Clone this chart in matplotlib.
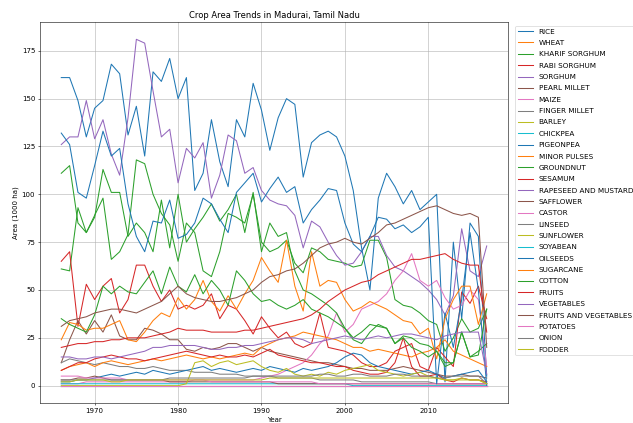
import numpy as np
import matplotlib
matplotlib.use('Agg')
import matplotlib.pyplot as plt

years = list(range(1966, 2018))

crops = ['RICE', 'WHEAT', 'KHARIF SORGHUM', 'RABI SORGHUM', 'SORGHUM', 'PEARL MILLET',
         'MAIZE', 'FINGER MILLET', 'BARLEY', 'CHICKPEA', 'PIGEONPEA', 'MINOR PULSES',
         'GROUNDNUT', 'SESAMUM', 'RAPESEED AND MUSTARD', 'SAFFLOWER', 'CASTOR', 'LINSEED',
         'SUNFLOWER', 'SOYABEAN', 'OILSEEDS', 'SUGARCANE', 'COTTON', 'FRUITS', 'VEGETABLES',
         'FRUITS AND VEGETABLES', 'POTATOES', 'ONION', 'FODDER']

rice = [161, 161, 149, 130, 145, 149, 168, 163, 131, 146,
        120, 164, 159, 171, 150, 161, 102, 111, 139, 117,
        104, 139, 130, 158, 144, 123, 140, 150, 147, 109,
        127, 131, 133, 130, 120, 102, 72, 50, 98, 111,
        104, 95, 102, 92, 96, 100, 2, 75, 35, 85,
        78, 5]
wheat = [0] * 52
kharif_sorghum = [61, 60, 93, 80, 89, 98, 66, 70, 79, 118,
                  116, 100, 90, 84, 65, 85, 80, 60, 57, 70,
                  90, 88, 85, 100, 75, 70, 72, 76, 64, 59,
                  72, 70, 66, 65, 64, 62, 63, 76, 76, 67,
                  45, 42, 41, 38, 34, 32, 18, 25, 35, 28,
                  30, 40]
rabi_sorghum = [65, 70, 31, 53, 45, 52, 56, 38, 45, 63,
                63, 52, 44, 50, 40, 42, 40, 42, 48, 35,
                42, 40, 34, 27, 36, 30, 25, 28, 22, 20,
                22, 38, 20, 19, 18, 16, 12, 10, 10, 12,
                18, 20, 22, 10, 8, 20, 15, 10, 49, 43,
                52, 35]
sorghum = [126, 130, 130, 149, 129, 139, 121, 110, 140, 181,
           179, 154, 130, 134, 106, 124, 119, 127, 98, 110,
           131, 128, 111, 114, 102, 97, 95, 94, 89, 72,
           86, 83, 75, 68, 63, 64, 70, 78, 78, 68,
           62, 60, 57, 54, 50, 45, 37, 47, 82, 60,
           57, 73]
pearl_millet = [12, 24, 34, 27, 34, 28, 37, 26, 24, 24,
                30, 29, 27, 24, 24, 19, 18, 20, 19, 20,
                22, 22, 20, 18, 20, 18, 17, 16, 15, 14,
                13, 12, 12, 11, 10, 9, 9, 8, 8, 8,
                9, 10, 9, 8, 7, 6, 5, 5, 6, 5,
                5, 4]
maize = [1, 1, 1, 2, 2, 2, 2, 2, 2, 2,
         2, 2, 2, 2, 2, 2, 3, 3, 3, 3,
         3, 3, 3, 3, 4, 5, 6, 8, 10, 12,
         16, 22, 26, 38, 28, 32, 40, 42, 44, 48,
         55, 60, 69, 55, 52, 55, 46, 40, 42, 50,
         45, 10]
finger_millet = [12, 14, 13, 12, 11, 12, 11, 10, 10, 9,
                 9, 10, 9, 8, 8, 8, 7, 7, 7, 6,
                 6, 6, 5, 5, 5, 5, 4, 4, 4, 4,
                 4, 3, 3, 3, 3, 3, 2, 2, 2, 2,
                 2, 2, 2, 2, 2, 1, 1, 1, 1, 1,
                 1, 1]
barley = [0] * 52
chickpea = [1, 1, 1, 1, 1, 1, 1, 1, 1, 1,
            1, 1, 1, 1, 1, 1, 1, 1, 1, 1,
            1, 1, 1, 1, 1, 1, 1, 1, 1, 1,
            1, 1, 1, 1, 1, 0, 0, 0, 0, 0,
            0, 0, 0, 0, 0, 0, 0, 0, 0, 0,
            0, 0]
pigeonpea = [2, 2, 3, 3, 4, 5, 6, 5, 6, 7,
             6, 8, 7, 6, 7, 8, 9, 10, 8, 9,
             8, 7, 8, 9, 8, 10, 9, 8, 7, 9,
             8, 9, 10, 12, 15, 17, 16, 12, 10, 9,
             8, 7, 6, 7, 8, 6, 4, 5, 6, 7,
             8, 2]
minor_pulses = [8, 10, 11, 12, 10, 12, 13, 12, 11, 12,
                13, 14, 13, 14, 15, 16, 15, 14, 15, 14,
                15, 16, 17, 16, 20, 22, 24, 25, 26, 28,
                27, 26, 25, 24, 22, 20, 20, 18, 19, 18,
                17, 16, 15, 17, 18, 20, 24, 18, 16, 14,
                12, 10]
groundnut = [111, 115, 85, 80, 88, 113, 101, 101, 78, 85,
             80, 70, 97, 72, 100, 75, 82, 88, 95, 86,
             92, 100, 80, 101, 70, 85, 78, 80, 60, 50,
             48, 45, 42, 38, 30, 25, 28, 32, 31, 30,
             22, 26, 25, 22, 21, 18, 12, 12, 28, 15,
             18, 22]
sesamum = [8, 10, 12, 12, 14, 15, 16, 15, 14, 14,
           13, 14, 15, 16, 17, 18, 17, 16, 15, 16,
           15, 15, 16, 15, 17, 19, 16, 15, 14, 13,
           12, 12, 11, 10, 10, 8, 7, 6, 6, 7,
           12, 25, 10, 5, 5, 6, 3, 2, 4, 3,
           3, 2]
rapeseed = [0] * 52
safflower = [3, 3, 4, 4, 5, 4, 3, 3, 3, 3,
             3, 3, 3, 2, 2, 2, 2, 2, 2, 2,
             2, 2, 2, 2, 2, 2, 1, 1, 1, 1,
             1, 1, 1, 1, 1, 1, 1, 1, 1, 1,
             1, 1, 1, 1, 1, 1, 1, 1, 1, 1,
             1, 1]
castor = [5, 5, 5, 4, 4, 4, 4, 4, 3, 3,
          3, 3, 3, 3, 3, 3, 3, 3, 2, 2,
          2, 2, 2, 2, 2, 2, 2, 2, 2, 2,
          2, 1, 1, 1, 1, 1, 1, 1, 1, 1,
          1, 1, 1, 1, 1, 1, 1, 1, 1, 1,
          1, 1]
linseed = [0] * 52
sunflower = [0, 0, 0, 0, 0, 0, 0, 0, 0, 0,
             0, 0, 0, 0, 0, 1, 12, 13, 10, 12,
             13, 11, 12, 13, 10, 8, 7, 9, 6, 5,
             6, 5, 7, 6, 8, 9, 10, 11, 8, 7,
             6, 5, 6, 7, 5, 4, 3, 3, 4, 3,
             3, 1]
soyabean = [0] * 52
oilseeds = [132, 126, 101, 98, 115, 133, 120, 124, 95, 78,
            70, 86, 85, 97, 77, 79, 85, 98, 95, 87,
            80, 101, 106, 111, 96, 103, 109, 101, 104, 85,
            92, 97, 103, 102, 85, 74, 70, 78, 88, 87,
            82, 84, 80, 83, 88, 1, 38, 20, 45, 80,
            50, 0]
sugarcane = [24, 33, 32, 29, 30, 30, 32, 34, 24, 23,
             28, 34, 38, 36, 46, 40, 45, 55, 44, 39,
             47, 40, 48, 55, 67, 60, 54, 76, 52, 39,
             70, 52, 55, 54, 45, 39, 41, 44, 42, 40,
             37, 34, 33, 27, 30, 14, 35, 45, 52, 52,
             32, 48]
cotton = [35, 32, 30, 28, 37, 52, 48, 52, 49, 48,
          54, 60, 48, 62, 52, 49, 58, 48, 55, 50,
          42, 60, 55, 48, 44, 45, 42, 40, 42, 45,
          40, 38, 36, 33, 30, 24, 22, 28, 32, 30,
          22, 25, 20, 18, 15, 18, 10, 12, 28, 15,
          16, 40]
fruits = [20, 21, 22, 22, 23, 23, 24, 24, 25, 25,
          25, 26, 27, 28, 30, 29, 29, 29, 28, 28,
          28, 28, 29, 29, 30, 31, 32, 33, 34, 35,
          37, 40, 44, 47, 50, 52, 54, 55, 58, 60,
          62, 64, 66, 66, 67, 68, 69, 66, 64, 63,
          63, 28]
vegetables = [15, 15, 14, 14, 15, 15, 14, 15, 16, 17,
              18, 20, 20, 21, 21, 21, 21, 20, 19, 19,
              20, 20, 21, 21, 22, 23, 24, 25, 25, 24,
              22, 23, 24, 25, 26, 25, 24, 25, 26, 25,
              26, 27, 27, 26, 25, 24, 26, 27, 28, 28,
              28, 6]
fruits_veg = [31, 34, 35, 36, 38, 39, 40, 40, 39, 38,
              40, 42, 44, 48, 52, 48, 46, 45, 44, 44,
              45, 46, 48, 50, 54, 57, 58, 60, 61, 64,
              68, 72, 74, 75, 77, 75, 74, 77, 80, 84,
              85, 87, 89, 91, 93, 94, 92, 90, 89, 90,
              88, 20]
potatoes = [0] * 52
onion = [3, 3, 3, 3, 3, 3, 3, 3, 3, 3,
         3, 3, 3, 4, 4, 4, 4, 4, 4, 4,
         4, 4, 4, 5, 5, 5, 5, 5, 5, 5,
         5, 6, 6, 5, 5, 6, 6, 5, 5, 5,
         6, 6, 5, 5, 5, 4, 4, 5, 5, 5,
         5, 1]
fodder = [2, 2, 3, 3, 3, 3, 2, 2, 3, 3,
          3, 3, 3, 3, 3, 3, 3, 3, 3, 3,
          3, 3, 3, 3, 3, 4, 4, 4, 4, 4,
          4, 4, 4, 4, 4, 4, 4, 4, 4, 4,
          4, 4, 4, 4, 4, 4, 3, 3, 3, 3,
          3, 1]

series = [rice, wheat, kharif_sorghum, rabi_sorghum, sorghum, pearl_millet,
          maize, finger_millet, barley, chickpea, pigeonpea, minor_pulses,
          groundnut, sesamum, rapeseed, safflower, castor, linseed,
          sunflower, soyabean, oilseeds, sugarcane, cotton, fruits, vegetables,
          fruits_veg, potatoes, onion, fodder]

# tab10 cycle, same as matplotlib default
colors = plt.get_cmap('tab10').colors

fig = plt.figure(figsize=(12.66, 8.46), dpi=50)
ax = fig.add_axes([0.0632, 0.0473, 0.7393, 0.9007])

for i, (name, vals) in enumerate(zip(crops, series)):
    ax.plot(years, vals, label=name, color=colors[i % 10])

ax.set_title('Crop Area Trends in Madurai, Tamil Nadu')
ax.set_xlabel('Year')
ax.set_ylabel('Area (1000 ha)')
ax.set_yticks([0, 25, 50, 75, 100, 125, 150, 175])
ax.grid(True)
# legend sits outside the axes and runs past the right edge, as in the source image
ax.legend(loc='upper left', bbox_to_anchor=(1.008, 1), fontsize=10.5, labelspacing=0.72)

fig.savefig('out.png', dpi=50)
